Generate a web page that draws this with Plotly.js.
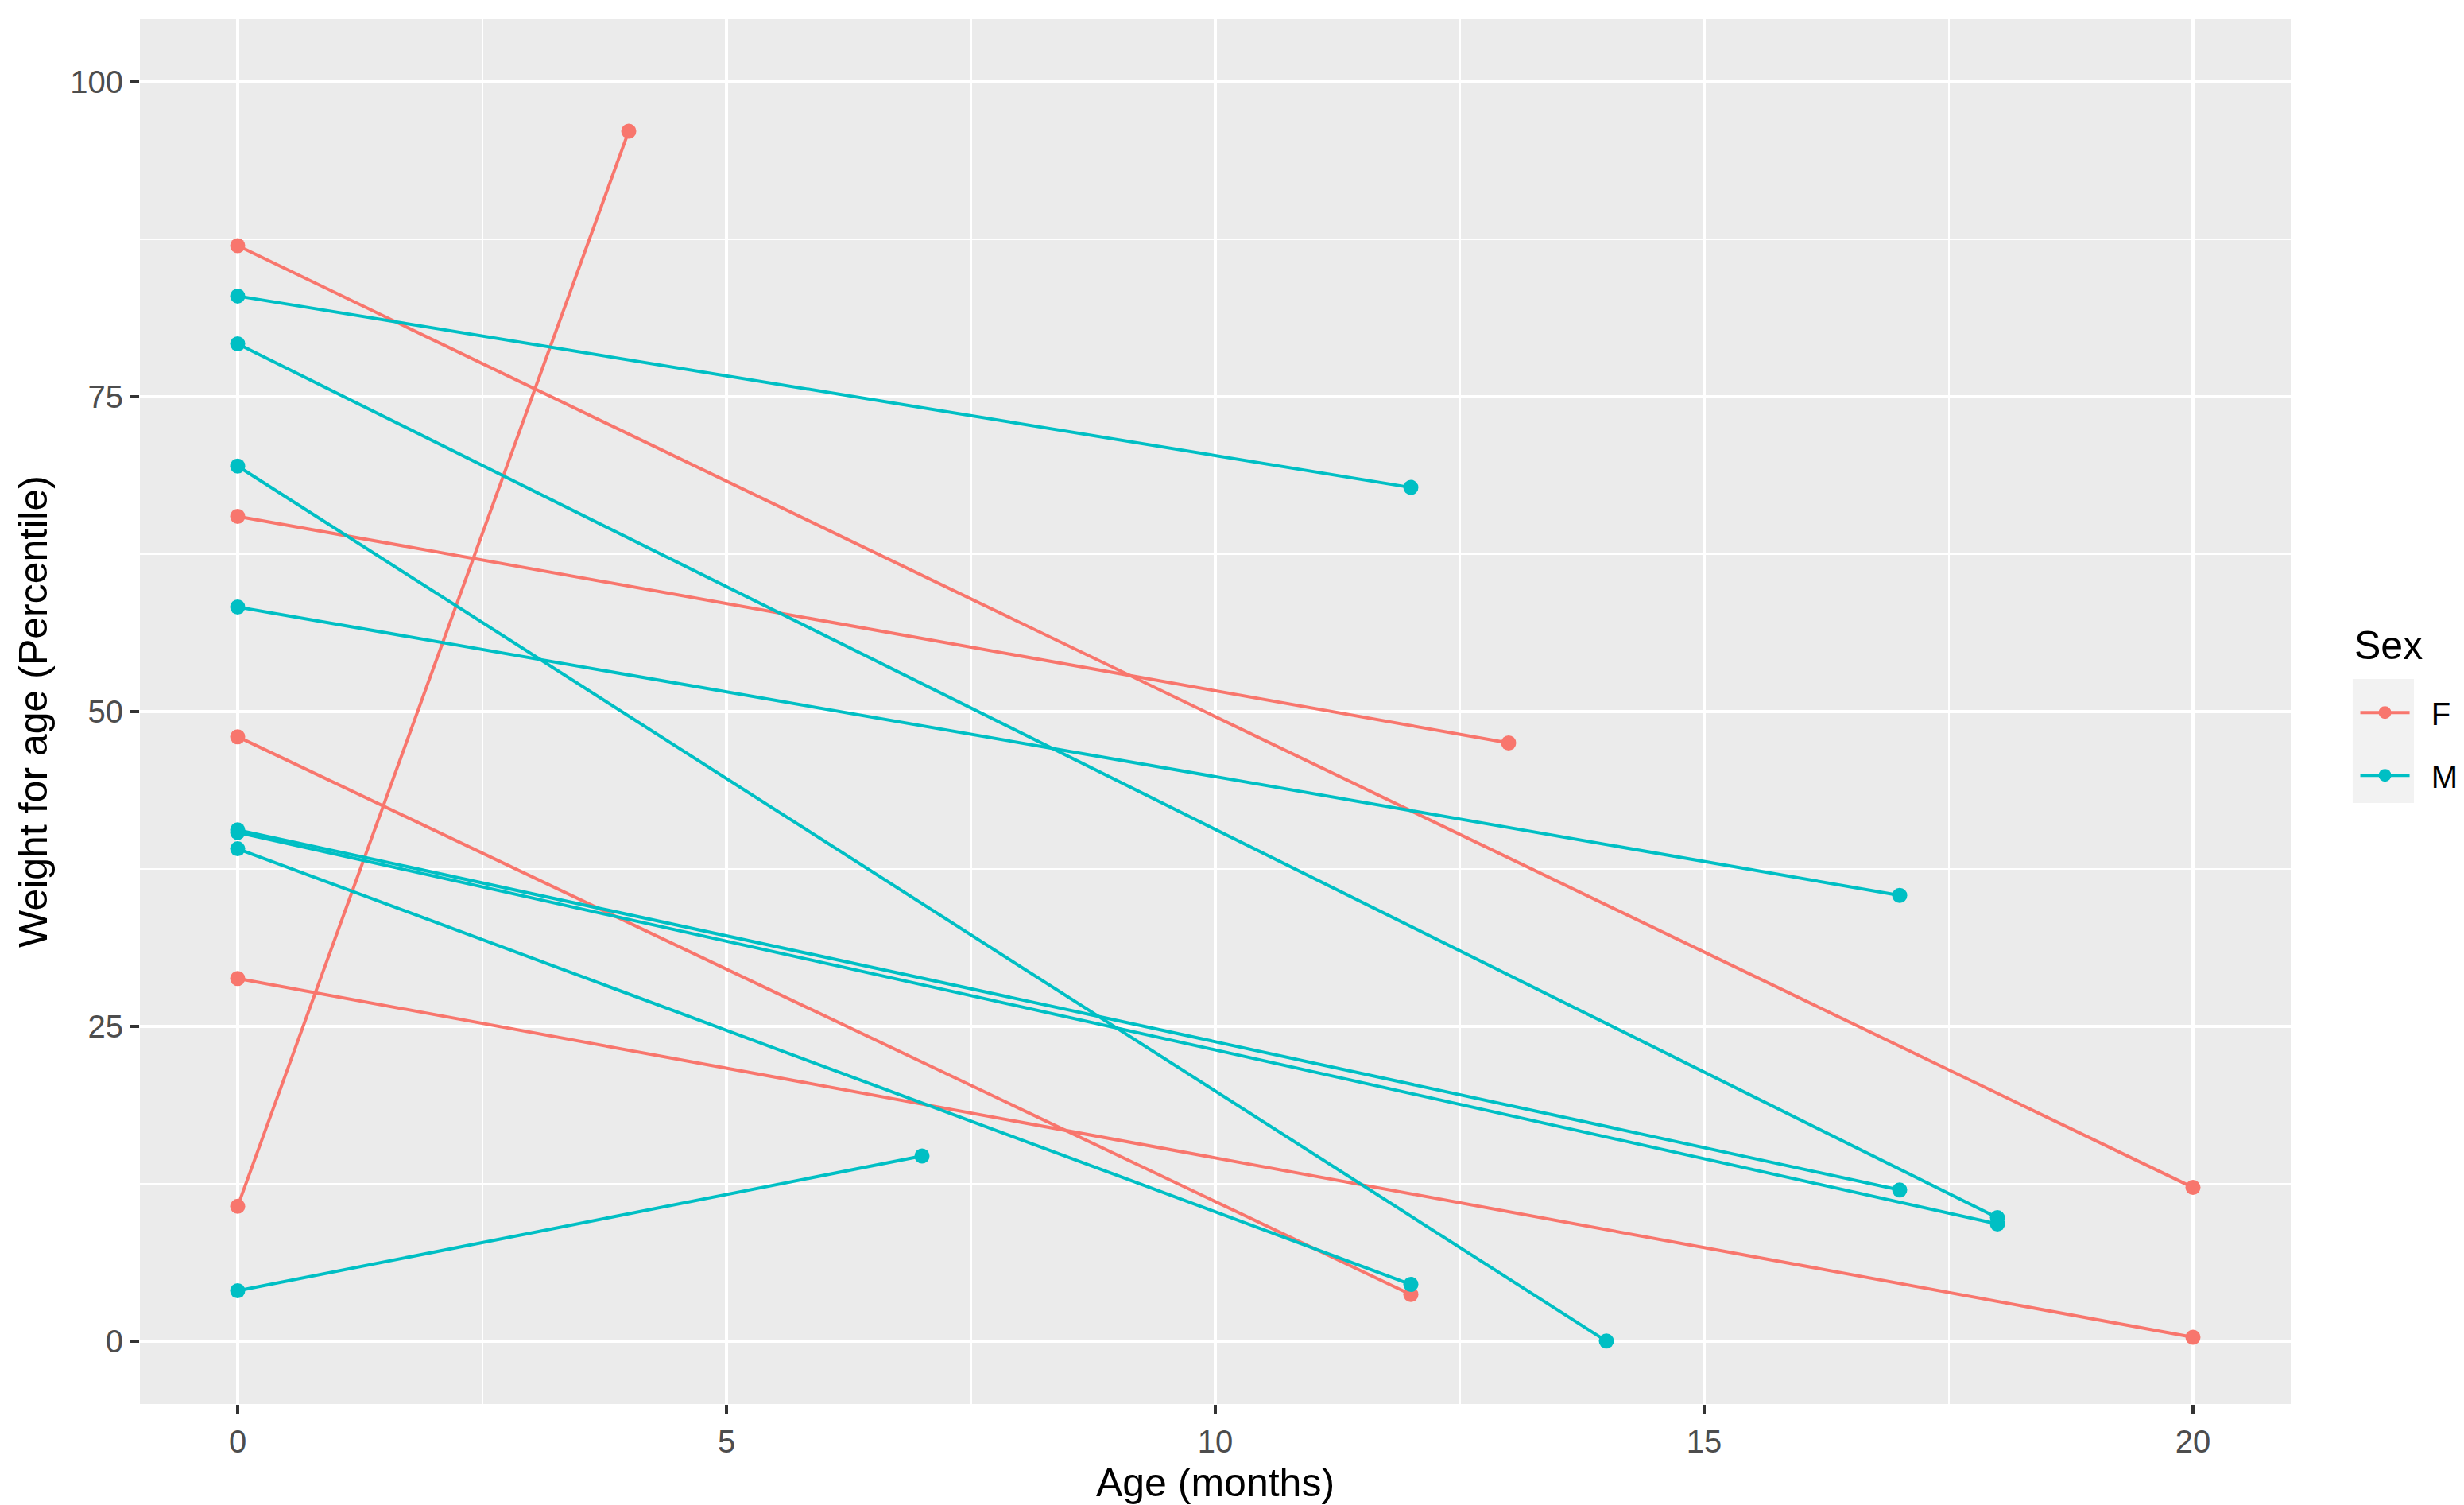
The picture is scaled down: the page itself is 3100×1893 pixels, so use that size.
<!DOCTYPE html>
<html>
<head>
<meta charset="utf-8">
<script src="https://cdn.plot.ly/plotly-3.0.1.min.js"></script>
<style>
  html, body { margin: 0; padding: 0; background: #fff; }
  #chart { width: 3100px; height: 1893px; }
</style>
</head>
<body>
<div id="chart"></div>
<script>
// one entry per child: sex, first and last visit age (months), weight-for-age percentile
var subjectSex = ['F', 'F', 'F', 'F', 'F', 'M', 'M', 'M', 'M', 'M', 'M', 'M', 'M'];
var ageStart   = [0, 0, 0, 0, 0, 0, 0, 0, 0, 0, 0, 0, 0];
var ageEnd     = [4, 20, 13, 12, 20, 12, 18, 14, 17, 17, 18, 12, 7];
var pctStart   = [10.7, 87.0, 65.5, 48.0, 28.8, 83.0, 79.2, 69.5, 58.3, 40.6, 40.4, 39.1, 4.0];
var pctEnd     = [96.1, 12.2, 47.5, 3.7, 0.3, 67.8, 9.8, 0.0, 35.4, 12.0, 9.3, 4.5, 14.7];

var sexLevels = ['F', 'M'];
var sexColors = {F: '#F8766D', M: '#00BFC4'};

var xTicks = [0, 5, 10, 15, 20];
var yTicks = [0, 25, 50, 75, 100];

var font = 'Liberation Sans, Arial, Helvetica, sans-serif';

var data = [];
var shown = {};
for (var i = 0; i < subjectSex.length; i++) {
    var s = subjectSex[i];
    data.push({
        x: [ageStart[i], ageEnd[i]],
        y: [pctStart[i], pctEnd[i]],
        type: 'scatter',
        mode: 'lines+markers',
        // nbsp pad so the label sits clear of the key, like ggplot
        name: '\u00A0\u00A0' + s,
        legendgroup: s,
        showlegend: !shown[s],
        line: {color: sexColors[s], width: 4},
        marker: {color: sexColors[s], size: 19, line: {width: 0}},
        hoverinfo: 'x+y'
    });
    shown[s] = true;
}

var layout = {
    width: 3100,
    height: 1893,
    margin: {l: 176, r: 218, t: 24, b: 127, pad: 0, autoexpand: false},
    paper_bgcolor: '#FFFFFF',
    plot_bgcolor: '#EBEBEB',
    font: {family: font, color: '#000000'},
    xaxis: {
        range: [-1, 21],
        tickmode: 'array',
        tickvals: xTicks,
        ticktext: xTicks.map(String),
        ticks: 'outside',
        ticklen: 12,
        tickwidth: 4,
        tickcolor: '#333333',
        tickfont: {family: font, size: 40, color: '#4D4D4D'},
        showgrid: true,
        gridcolor: '#FFFFFF',
        gridwidth: 4,
        minor: {dtick: 2.5, tick0: 0, showgrid: true, gridcolor: '#FFFFFF', gridwidth: 2, ticks: ''},
        zeroline: false,
        showline: false,
        automargin: false,
        title: {text: 'Age (months)', font: {family: font, size: 50, color: '#000000'}, standoff: 12}
    },
    yaxis: {
        range: [-5, 105],
        tickmode: 'array',
        tickvals: yTicks,
        ticktext: yTicks.map(String),
        ticks: 'outside',
        ticklen: 12,
        tickwidth: 4,
        tickcolor: '#333333',
        tickfont: {family: font, size: 40, color: '#4D4D4D'},
        showgrid: true,
        gridcolor: '#FFFFFF',
        gridwidth: 4,
        minor: {dtick: 12.5, tick0: 0, showgrid: true, gridcolor: '#FFFFFF', gridwidth: 2, ticks: ''},
        zeroline: false,
        showline: false,
        automargin: false,
        title: {text: 'Weight for age (Percentile)', font: {family: font, size: 50, color: '#000000'}, standoff: 12}
    },
    showlegend: true,
    legend: {
        x: 1.0305,
        xanchor: 'left',
        y: 0.518,
        yanchor: 'top',
        bgcolor: 'rgba(0,0,0,0)',
        borderwidth: 0,
        traceorder: 'grouped',
        tracegroupgap: 24,
        itemwidth: 62,
        font: {family: font, size: 40, color: '#000000'}
    },
    annotations: [{
        text: 'Sex', xref: 'paper', yref: 'paper',
        x: 1.0288, y: 0.5476, xanchor: 'left', yanchor: 'middle',
        showarrow: false, font: {family: font, size: 50, color: '#000000'}
    }],
    shapes: [{
        type: 'rect', xref: 'paper', yref: 'paper', layer: 'below',
        x0: 1.0288, x1: 1.0573, y0: 0.434, y1: 0.5235,
        fillcolor: '#F2F2F2', line: {width: 0}
    }],
    hovermode: 'closest'
};

var config = {displayModeBar: false, responsive: false, staticPlot: true};

Plotly.newPlot('chart', data, layout, config);
</script>
</body>
</html>
